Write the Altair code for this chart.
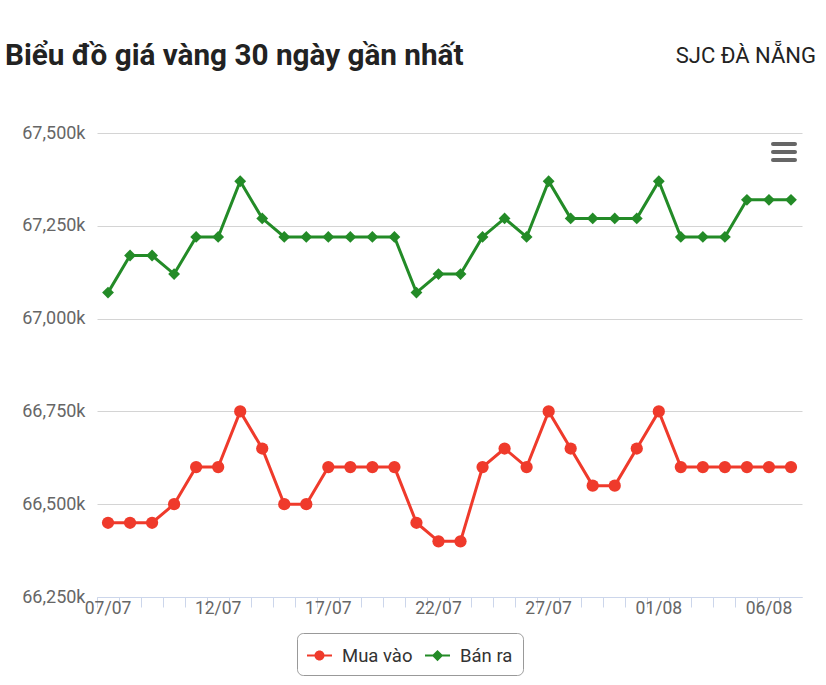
import altair as alt
import pandas as pd

# ---------------- data ----------------
dates = ["07/07", "08/07", "09/07", "10/07", "11/07", "12/07", "13/07", "14/07",
         "15/07", "16/07", "17/07", "18/07", "19/07", "20/07", "21/07", "22/07",
         "23/07", "24/07", "25/07", "26/07", "27/07", "28/07", "29/07", "30/07",
         "31/07", "01/08", "02/08", "03/08", "04/08", "05/08", "06/08", "07/08"]

mua_vao = [66450, 66450, 66450, 66500, 66600, 66600, 66750, 66650,
           66500, 66500, 66600, 66600, 66600, 66600, 66450, 66400,
           66400, 66600, 66650, 66600, 66750, 66650, 66550, 66550,
           66650, 66750, 66600, 66600, 66600, 66600, 66600, 66600]

ban_ra = [67070, 67170, 67170, 67120, 67220, 67220, 67370, 67270,
          67220, 67220, 67220, 67220, 67220, 67220, 67070, 67120,
          67120, 67220, 67270, 67220, 67370, 67270, 67270, 67270,
          67270, 67370, 67220, 67220, 67220, 67320, 67320, 67320]

series_names = ["Mua vào", "Bán ra"]
series_colors = ["#ef3a2b", "#238b27"]
y_ticks = [66250, 66500, 66750, 67000, 67250, 67500]

title_text = "Biểu đồ giá vàng 30 ngày gần nhất"
right_text = "SJC ĐÀ NẴNG"

df = pd.DataFrame({
    "date": dates * 2,
    "series": [series_names[0]] * len(dates) + [series_names[1]] * len(dates),
    "value": mua_vao + ban_ra,
})

FONT = "Roboto"
W, H = 705, 464
label_every = 5
label_expr = (
    "indexof(" + str(dates).replace("'", '"') + ", datum.value) % "
    + str(label_every) + " == 0 ? datum.value : ''"
)

x_enc = alt.X(
    "date:O",
    sort=dates,
    scale=alt.Scale(type="band", paddingInner=0, paddingOuter=0),
    axis=alt.Axis(
        title=None, labelAngle=0, bandPosition=0,
        labelExpr=label_expr, labelOverlap=False, labelBound=False,
        tickColor="#ccd6eb", domainColor="#ccd6eb", tickSize=10,
        tickWidth=1, domainWidth=1, labelPadding=-8,
        labelFontSize=17.5, labelColor="#666666", labelFont=FONT, grid=False,
    ),
)

y_enc = alt.Y(
    "value:Q",
    scale=alt.Scale(domain=[y_ticks[0], y_ticks[-1]], nice=False, zero=False),
    axis=alt.Axis(
        title=None, values=y_ticks,
        labelExpr="format(datum.value, ',') + 'k'",
        grid=True, gridColor="#d4d4d4", gridWidth=1,
        domain=False, ticks=False, labelPadding=12,
        labelFontSize=18, labelColor="#666666", labelFont=FONT,
    ),
)

color_scale = alt.Scale(domain=series_names, range=series_colors)

base = alt.Chart(df).encode(x=x_enc, y=y_enc)

# legend symbols: line segment with marker
sym_circle = ("M-1,-0.08L1,-0.08L1,0.08L-1,0.08Z "
              "M0.4,0A0.4,0.4,0,1,1,-0.4,0A0.4,0.4,0,1,1,0.4,0Z")
sym_diamond = ("M-1,-0.08L1,-0.08L1,0.08L-1,0.08Z "
               "M0,-0.45L0.45,0L0,0.45L-0.45,0Z")

legend_def = alt.Legend(
    orient="none", legendX=200, legendY=500, direction="horizontal",
    title=None, strokeColor="#999999", cornerRadius=6, padding=10,
    symbolSize=625, symbolOpacity=1, symbolStrokeWidth=0,
    labelFontSize=18.5, labelColor="#333333", labelFont=FONT,
    columnPadding=12, labelOffset=10,
)

# the only layer that encodes colour / shape -> carries the legend
legend_layer = base.mark_point(filled=True, opacity=0).encode(
    color=alt.Color("series:N", scale=color_scale, legend=legend_def),
    shape=alt.Shape("series:N",
                    scale=alt.Scale(domain=series_names,
                                    range=[sym_circle, sym_diamond]),
                    legend=legend_def),
)

layers = [legend_layer]
marker_shapes = ["circle", "diamond"]
marker_sizes = [150, 140]
for name, col, shp, sz in zip(series_names, series_colors, marker_shapes, marker_sizes):
    sub = base.transform_filter(alt.datum.series == name)
    layers.append(sub.mark_line(strokeWidth=3, color=col))
    layers.append(sub.mark_point(shape=shp, filled=True, size=sz, opacity=1, color=col))

one = pd.DataFrame({"t": [0]})
title_mark = alt.Chart(one).mark_text(
    text=title_text, align="left", baseline="alphabetic",
    font=FONT, fontSize=29.7, fontWeight="bold", color="#222222",
).encode(x=alt.value(-92), y=alt.value(-68))

right_mark = alt.Chart(one).mark_text(
    text=right_text, align="right", baseline="alphabetic",
    font=FONT, fontSize=22, color="#222222",
).encode(x=alt.value(719), y=alt.value(-70))

menu_layers = [
    alt.Chart(one).mark_rule(color="#666666", strokeWidth=4, strokeCap="round").encode(
        x=alt.value(676), x2=alt.value(698), y=alt.value(yy)
    )
    for yy in (11, 19, 27)
]

chart = alt.layer(
    *layers, title_mark, right_mark, *menu_layers
).properties(
    width=W, height=H,
    autosize=alt.AutoSizeParams(type="none"),
    padding={"left": 97, "top": 133, "right": 24, "bottom": 88},
    background="white",
).configure_view(stroke=None)

chart.save("out.html", embed_options={"renderer": "svg", "actions": False})
